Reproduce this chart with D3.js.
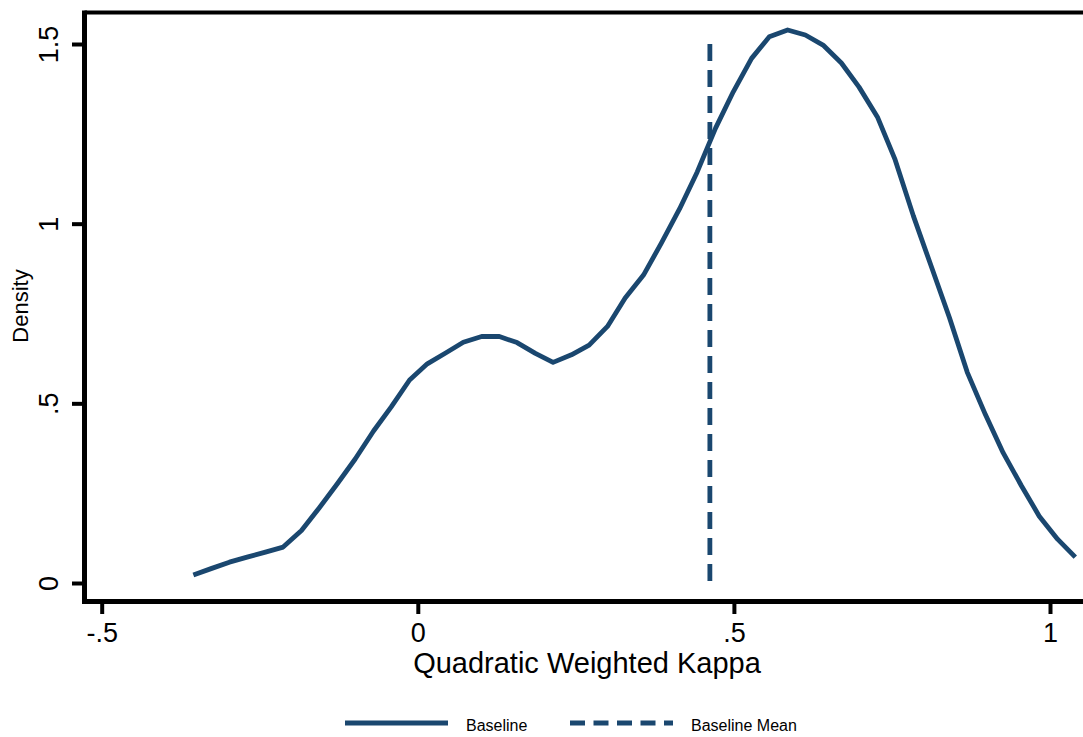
<!DOCTYPE html>
<html>
<head>
<script src="https://d3js.org/d3.v7.min.js"></script>
<style>
body { margin: 0; background: #ffffff; }
svg { display: block; font-family: "Liberation Sans", Arial, sans-serif; }
.axis text { font-size: 27px; fill: #000000; }
</style>
</head>
<body>
<script>

// kernel density grid
var kappa = [-0.355, -0.327, -0.298, -0.270, -0.241, -0.213, -0.184, -0.156, -0.127, -0.099,
             -0.070, -0.042, -0.013, 0.015, 0.044, 0.072, 0.101, 0.129, 0.157, 0.186,
             0.214, 0.243, 0.271, 0.300, 0.328, 0.357, 0.385, 0.414, 0.442, 0.471,
             0.499, 0.528, 0.556, 0.585, 0.613, 0.641, 0.670, 0.698, 0.727, 0.755,
             0.784, 0.812, 0.841, 0.869, 0.898, 0.926, 0.955, 0.983, 1.012, 1.040];
var density = [0.022, 0.040, 0.058, 0.072, 0.086, 0.100, 0.146, 0.209, 0.277, 0.345,
               0.423, 0.490, 0.565, 0.610, 0.640, 0.670, 0.686, 0.686, 0.669, 0.639,
               0.614, 0.635, 0.662, 0.714, 0.793, 0.857, 0.945, 1.041, 1.144, 1.266,
               1.367, 1.460, 1.520, 1.539, 1.525, 1.497, 1.447, 1.380, 1.297, 1.178,
               1.021, 0.882, 0.738, 0.587, 0.468, 0.362, 0.270, 0.186, 0.122, 0.072];
var baselineMean = 0.462;
var meanLine = [0, 1.5];

var xTicks = [-0.5, 0, 0.5, 1];
var xTickLabels = ["-.5", "0", ".5", "1"];
var yTicks = [0, 0.5, 1, 1.5];
var yTickLabels = ["0", ".5", "1", "1.5"];

var legendLabels = ["Baseline", "Baseline Mean"];

var lineColor = "#1a476f";
var W = 1083, H = 737;

var frame = {left: 84.5, top: 12.5, right: 1100, bottom: 601.5};

var xScale = d3.scaleLinear().domain([-0.5, 1]).range([101.7, 1050]);
var yScale = d3.scaleLinear().domain([0, 1.5]).range([583, 44]);

var svg = d3.select("body").append("svg")
    .attr("width", W)
    .attr("height", H);

// plot region border (right side runs off the image)
svg.append("line")
    .attr("x1", frame.left).attr("x2", frame.right)
    .attr("y1", frame.top).attr("y2", frame.top)
    .attr("stroke", "#000").attr("stroke-width", 4);

svg.append("line")
    .attr("x1", frame.left).attr("x2", frame.left)
    .attr("y1", frame.top - 2).attr("y2", frame.bottom + 2.5)
    .attr("stroke", "#000").attr("stroke-width", 5);

svg.append("line")
    .attr("x1", frame.left - 2.5).attr("x2", frame.right)
    .attr("y1", frame.bottom).attr("y2", frame.bottom)
    .attr("stroke", "#000").attr("stroke-width", 5);

// x axis
var xAxis = d3.axisBottom(xScale)
    .tickValues(xTicks)
    .tickSize(10)
    .tickPadding(9)
    .tickFormat(function(d, i) { return xTickLabels[i]; });

var gx = svg.append("g")
    .attr("class", "x axis")
    .attr("transform", "translate(0," + (frame.bottom + 2.5) + ")")
    .call(xAxis);
gx.select(".domain").remove();
gx.selectAll(".tick line").attr("stroke", "#000").attr("stroke-width", 4);
gx.selectAll(".tick text").attr("font-family", null);

// y axis
var yAxis = d3.axisLeft(yScale)
    .tickValues(yTicks)
    .tickSize(10)
    .tickFormat(function(d, i) { return yTickLabels[i]; });

var gy = svg.append("g")
    .attr("class", "y axis")
    .attr("transform", "translate(" + (frame.left - 2.5) + ",0)")
    .call(yAxis);
gy.select(".domain").remove();
gy.selectAll(".tick line").attr("stroke", "#000").attr("stroke-width", 4);
gy.selectAll(".tick text")
    .attr("font-family", null)
    .attr("x", null).attr("dy", null)
    .attr("text-anchor", "middle")
    .attr("transform", "translate(-24,0) rotate(-90)");

// axis titles
svg.append("text")
    .attr("x", 587)
    .attr("y", 673)
    .attr("text-anchor", "middle")
    .style("font-size", "29px")
    .text("Quadratic Weighted Kappa");

svg.append("text")
    .attr("transform", "translate(28,306) rotate(-90)")
    .attr("text-anchor", "middle")
    .style("font-size", "22px")
    .text("Density");

// density curve
var line = d3.line()
    .x(function(d, i) { return xScale(kappa[i]); })
    .y(function(d) { return yScale(d); });

svg.append("path")
    .datum(density)
    .attr("d", line)
    .attr("fill", "none")
    .attr("stroke", lineColor)
    .attr("stroke-width", 4.8)
    .attr("stroke-linejoin", "round");

// mean line
svg.append("line")
    .attr("x1", xScale(baselineMean))
    .attr("x2", xScale(baselineMean))
    .attr("y1", yScale(meanLine[1]))
    .attr("y2", yScale(meanLine[0]))
    .attr("stroke", lineColor)
    .attr("stroke-width", 4.8)
    .attr("stroke-dasharray", "17,9");

// legend
var legend = svg.append("g").attr("class", "legend");

legend.append("line")
    .attr("x1", 345).attr("x2", 448)
    .attr("y1", 723).attr("y2", 723)
    .attr("stroke", lineColor)
    .attr("stroke-width", 4.8);

legend.append("text")
    .attr("x", 466).attr("y", 731)
    .style("font-size", "16px")
    .text(legendLabels[0]);

legend.append("line")
    .attr("x1", 570).attr("x2", 673)
    .attr("y1", 723).attr("y2", 723)
    .attr("stroke", lineColor)
    .attr("stroke-width", 4.8)
    .attr("stroke-dasharray", "15,8.5");

legend.append("text")
    .attr("x", 691).attr("y", 731)
    .style("font-size", "16px")
    .text(legendLabels[1]);

</script>
</body>
</html>
